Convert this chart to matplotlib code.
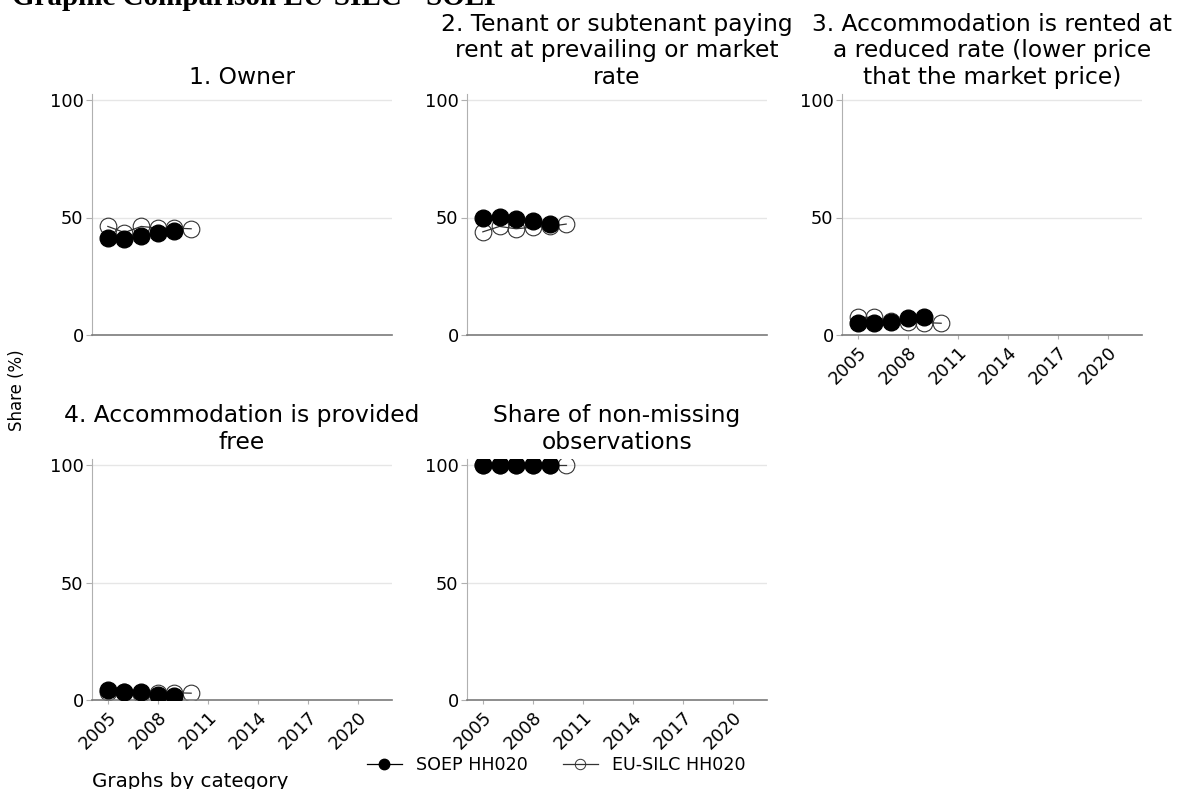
import matplotlib
matplotlib.use("Agg")
import matplotlib.pyplot as plt
from matplotlib.lines import Line2D

years_soep = [2005, 2006, 2007, 2008, 2009]
years_silc = [2005, 2006, 2007, 2008, 2009, 2010]

titles = [
    "1. Owner",
    "2. Tenant or subtenant paying\nrent at prevailing or market\nrate",
    "3. Accommodation is rented at\na reduced rate (lower price\nthat the market price)",
    "4. Accommodation is provided\nfree",
    "Share of non-missing\nobservations",
]

soep_owner = [41.2, 40.9, 42.0, 43.3, 44.3]
silc_owner = [46.2, 43.6, 46.2, 45.5, 45.5, 45.2]
soep_tenant = [50.0, 50.4, 49.3, 48.3, 47.3]
silc_tenant = [43.9, 46.2, 45.2, 45.9, 46.2, 47.2]
soep_reduced = [5.3, 5.3, 5.7, 7.4, 7.5]
silc_reduced = [7.5, 7.5, 6.1, 5.7, 5.3, 5.0]
soep_free = [4.1, 3.4, 3.6, 2.1, 1.7]
silc_free = [3.5, 3.4, 2.4, 2.9, 3.1, 2.9]
soep_nonmiss = [100, 100, 100, 100, 100]
silc_nonmiss = [100, 100, 100, 100, 100, 100]

soep_series = [soep_owner, soep_tenant, soep_reduced, soep_free, soep_nonmiss]
silc_series = [silc_owner, silc_tenant, silc_reduced, silc_free, silc_nonmiss]

xticks = [2005, 2008, 2011, 2014, 2017, 2020]
yticks = [0, 50, 100]

W, H = 1180, 789
fig = plt.figure(figsize=(W / 100, H / 100), dpi=100)

cols_left = [92, 467, 842]
ax_w = 300
ytop_unit = 102.5
px_per_unit = 2.35
row_zero = [335, 700]

positions = [(0, 0), (0, 1), (0, 2), (1, 0), (1, 1)]
show_xlabels = [False, False, True, True, True]

spine_col = "#7a7a7a"
for i, (r, c) in enumerate(positions):
    left = cols_left[c]
    bottom_px = row_zero[r]
    top_px = bottom_px - ytop_unit * px_per_unit
    ax = fig.add_axes([left / W, 1 - bottom_px / H, ax_w / W, (bottom_px - top_px) / H])
    ax.set_xlim(2004.05, 2022.05)
    ax.set_ylim(0, ytop_unit)
    ax.set_yticks(yticks)
    ax.set_yticklabels([str(v) for v in yticks], fontsize=12.8)
    for y in [50, 100]:
        ax.axhline(y, color="#e6e6e6", lw=1.0, zorder=0)
    ax.plot(years_silc, silc_series[i], color="#333333", lw=0.9, marker="o",
            markersize=12, markerfacecolor="none", markeredgecolor="#333333",
            markeredgewidth=0.8, zorder=2)
    ax.plot(years_soep, soep_series[i], color="black", lw=0.9, marker="o",
            markersize=12, markerfacecolor="black", markeredgecolor="black", zorder=3)
    for s in ["top", "right"]:
        ax.spines[s].set_visible(False)
    ax.spines["left"].set_color("#b0b0b0")
    ax.spines["bottom"].set_color(spine_col)
    ax.spines["bottom"].set_linewidth(1.2)
    ax.tick_params(axis="y", length=4, color="#b0b0b0", pad=2)
    if show_xlabels[i]:
        ax.set_xticks(xticks)
        ax.set_xticklabels([str(v) for v in xticks], rotation=45, ha="right",
                           rotation_mode="anchor", fontsize=12.8)
        ax.tick_params(axis="x", length=3, color="#b0b0b0", pad=3)
    else:
        ax.set_xticks([])
    ax.set_title(titles[i], fontsize=16.8, pad=7.5, linespacing=1.2)

fig.text(12 / W, 1 - 5 / H, "Graphic Comparison EU-SILC - SOEP",
         family="Liberation Serif", fontweight="bold", fontsize=21,
         ha="left", va="baseline")
fig.text(17 / W, 1 - 390 / H, "Share (%)", rotation=90, fontsize=12,
         ha="center", va="center")
fig.text(92 / W, 1 - 772 / H, "Graphs by category", fontsize=14.3,
         ha="left", va="top")

handles = [
    Line2D([], [], color="black", lw=0.9, marker="o", markersize=7.5,
           markerfacecolor="black"),
    Line2D([], [], color="#333333", lw=0.9, marker="o", markersize=7.5,
           markerfacecolor="none", markeredgewidth=0.7),
]
fig.legend(handles, ["SOEP HH020", "EU-SILC HH020"], loc="center",
           bbox_to_anchor=(556 / W, 1 - 765 / H), ncol=2, frameon=False,
           fontsize=12.6, handlelength=2.0, handletextpad=0.8, columnspacing=2.0)

fig.savefig("out.png", dpi=100)
